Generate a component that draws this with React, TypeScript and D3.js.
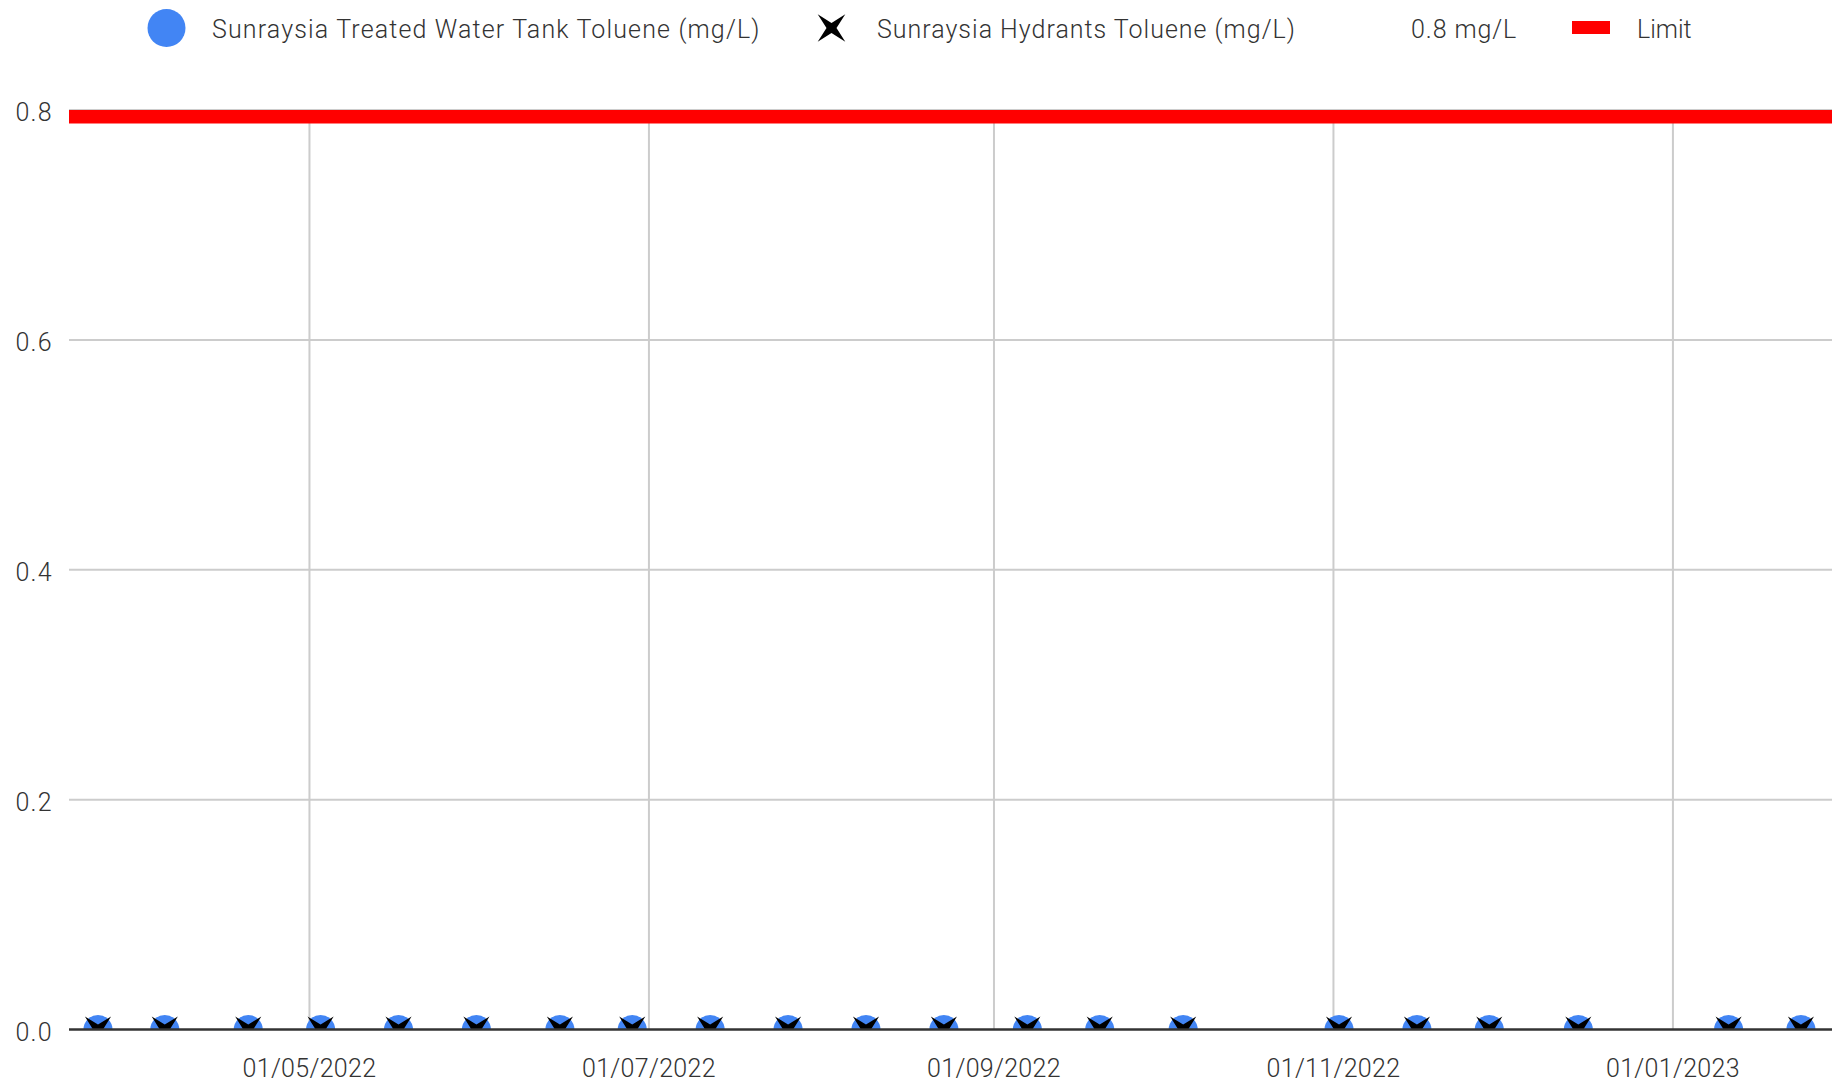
import { useEffect, useRef } from "react";
import * as d3 from "d3";

const sampleDates = [
  "2022-03-24", "2022-04-05", "2022-04-20", "2022-05-03", "2022-05-17",
  "2022-05-31", "2022-06-15", "2022-06-28", "2022-07-12", "2022-07-26",
  "2022-08-09", "2022-08-23", "2022-09-07", "2022-09-20", "2022-10-05",
  "2022-11-02", "2022-11-16", "2022-11-29", "2022-12-15", "2023-01-11",
  "2023-01-24",
];
const tankToluene = [0, 0, 0, 0, 0, 0, 0, 0, 0, 0, 0, 0, 0, 0, 0, 0, 0, 0, 0, 0, 0];
const hydrantToluene = [0, 0, 0, 0, 0, 0, 0, 0, 0, 0, 0, 0, 0, 0, 0, 0, 0, 0, 0, 0, 0];
const limitValue = 0.8;
const dateDomain = ["2022-03-18T19:00", "2023-01-29T14:00"];
const xTickDates = ["2022-05-01", "2022-07-01", "2022-09-01", "2022-11-01", "2023-01-01"];
const yTicks = [0, 0.2, 0.4, 0.6, 0.8];
const legendLabels = [
  "Sunraysia Treated Water Tank Toluene (mg/L)",
  "Sunraysia Hydrants Toluene (mg/L)",
  "0.8 mg/L",
  "Limit",
];

const BLUE = "#4285f4";
const FONT = "Roboto, 'Liberation Sans', sans-serif";
const TEXT = "#333";

// 4-point star turned 45deg, looks like an X
function xStar(outer: number, inner: number) {
  const pts: [number, number][] = [];
  for (let i = 0; i < 8; i++) {
    pts.push([Math.PI / 4 + (i * Math.PI) / 4, i % 2 === 0 ? outer : inner]);
  }
  return d3.lineRadial().curve(d3.curveLinearClosed)(pts) ?? "";
}

export default function App() {
  const svgRef = useRef<SVGSVGElement>(null);

  useEffect(() => {
    if (!svgRef.current) return;
    const width = 1838;
    const height = 1086;
    const plot = { left: 69, right: 1832, top: 110, bottom: 1029.5 };

    const parse = d3.timeParse("%Y-%m-%d")!;
    const parseT = d3.timeParse("%Y-%m-%dT%H:%M")!;

    const svg = d3.select(svgRef.current);
    svg.selectAll("*").remove();
    svg.attr("width", width).attr("height", height);

    const x = d3
      .scaleTime()
      .domain(dateDomain.map((d) => parseT(d)!))
      .range([plot.left, plot.right]);
    const y = d3.scaleLinear().domain([0, 0.8]).range([plot.bottom, plot.top]);

    svg
      .append("defs")
      .append("clipPath")
      .attr("id", "plot-clip")
      .append("rect")
      .attr("x", plot.left)
      .attr("y", plot.top)
      .attr("width", plot.right - plot.left)
      .attr("height", plot.bottom - plot.top);

    // Horizontal grid lines
    svg
      .append("g")
      .selectAll("line")
      .data(yTicks.filter((t) => t > 0))
      .enter()
      .append("line")
      .attr("x1", plot.left)
      .attr("x2", plot.right)
      .attr("y1", (d) => y(d))
      .attr("y2", (d) => y(d))
      .style("stroke", "#cccccc")
      .style("stroke-width", "2px");

    // Vertical grid lines on month ticks
    const tickDates = xTickDates.map((d) => parse(d)!);
    svg
      .append("g")
      .selectAll("line")
      .data(tickDates)
      .enter()
      .append("line")
      .attr("x1", (d) => x(d))
      .attr("x2", (d) => x(d))
      .attr("y1", plot.top)
      .attr("y2", plot.bottom)
      .style("stroke", "#cccccc")
      .style("stroke-width", "2px");

    const g = svg.append("g").attr("clip-path", "url(#plot-clip)");

    // Limit line (clipped to the plot, so only its lower half shows)
    g.append("line")
      .attr("x1", plot.left)
      .attr("x2", plot.right)
      .attr("y1", y(limitValue))
      .attr("y2", y(limitValue))
      .style("stroke", "#ff0000")
      .style("stroke-width", "27px");

    const points = sampleDates.map((d, i) => ({
      date: parse(d)!,
      tank: tankToluene[i],
      hydrant: hydrantToluene[i],
    }));

    g.selectAll("circle.tank")
      .data(points)
      .enter()
      .append("circle")
      .attr("class", "tank")
      .attr("cx", (d) => x(d.date))
      .attr("cy", (d) => y(d.tank))
      .attr("r", 14.5)
      .style("fill", BLUE);

    const starPath = xStar(18.5, 5);
    g.selectAll("path.hydrant")
      .data(points)
      .enter()
      .append("path")
      .attr("class", "hydrant")
      .attr("transform", (d) => `translate(${x(d.date)},${y(d.hydrant)})`)
      .attr("d", starPath)
      .style("fill", "#000");

    // Baseline
    svg
      .append("line")
      .attr("x1", plot.left)
      .attr("x2", plot.right)
      .attr("y1", y(0))
      .attr("y2", y(0))
      .style("stroke", "#333333")
      .style("stroke-width", "2.5px");

    // Y tick labels
    svg
      .append("g")
      .selectAll("text")
      .data(yTicks)
      .enter()
      .append("text")
      .attr("x", 53)
      .attr("y", (d) => y(d) + 2)
      .attr("dy", "0.36em")
      .attr("text-anchor", "end")
      .style("font-family", FONT)
      .style("font-size", "25px")
      .style("font-weight", "300")
      .style("letter-spacing", "1.3px")
      .style("fill", TEXT)
      .text((d) => d3.format(".1f")(d));

    // X tick labels
    const fmt = d3.timeFormat("%d/%m/%Y");
    svg
      .append("g")
      .selectAll("text")
      .data(tickDates)
      .enter()
      .append("text")
      .attr("x", (d) => x(d))
      .attr("y", 1077)
      .attr("text-anchor", "middle")
      .style("font-family", FONT)
      .style("font-size", "25px")
      .style("font-weight", "300")
      .style("letter-spacing", "0.3px")
      .style("fill", TEXT)
      .text((d) => fmt(d));

    // Legend
    const legend = svg
      .append("g")
      .style("font-family", FONT)
      .style("font-size", "25px")
      .style("font-weight", "300");
    const legendY = 29;
    legend
      .append("circle")
      .attr("cx", 166.5)
      .attr("cy", 28)
      .attr("r", 19)
      .style("fill", BLUE);
    legend
      .append("path")
      .attr("transform", "translate(831.5,28)")
      .attr("d", xStar(19.5, 5))
      .style("fill", "#000");
    legend
      .append("rect")
      .attr("x", 1572)
      .attr("y", 21)
      .attr("width", 38)
      .attr("height", 13)
      .style("fill", "#ff0000");

    const legendX = [212, 877, 1411, 1637];
    const legendSpacing = [1.15, 1.0, 0.9, 0];
    legendLabels.forEach((label, i) => {
      legend
        .append("text")
        .attr("x", legendX[i])
        .attr("y", legendY)
        .attr("dy", "0.36em")
        .style("letter-spacing", `${legendSpacing[i]}px`)
        .style("fill", TEXT)
        .text(label);
    });
  }, []);

  return (
    <div>
      <style>{"body{margin:0}"}</style>
      <svg ref={svgRef} style={{ display: "block", background: "#fff" }} />
    </div>
  );
}
